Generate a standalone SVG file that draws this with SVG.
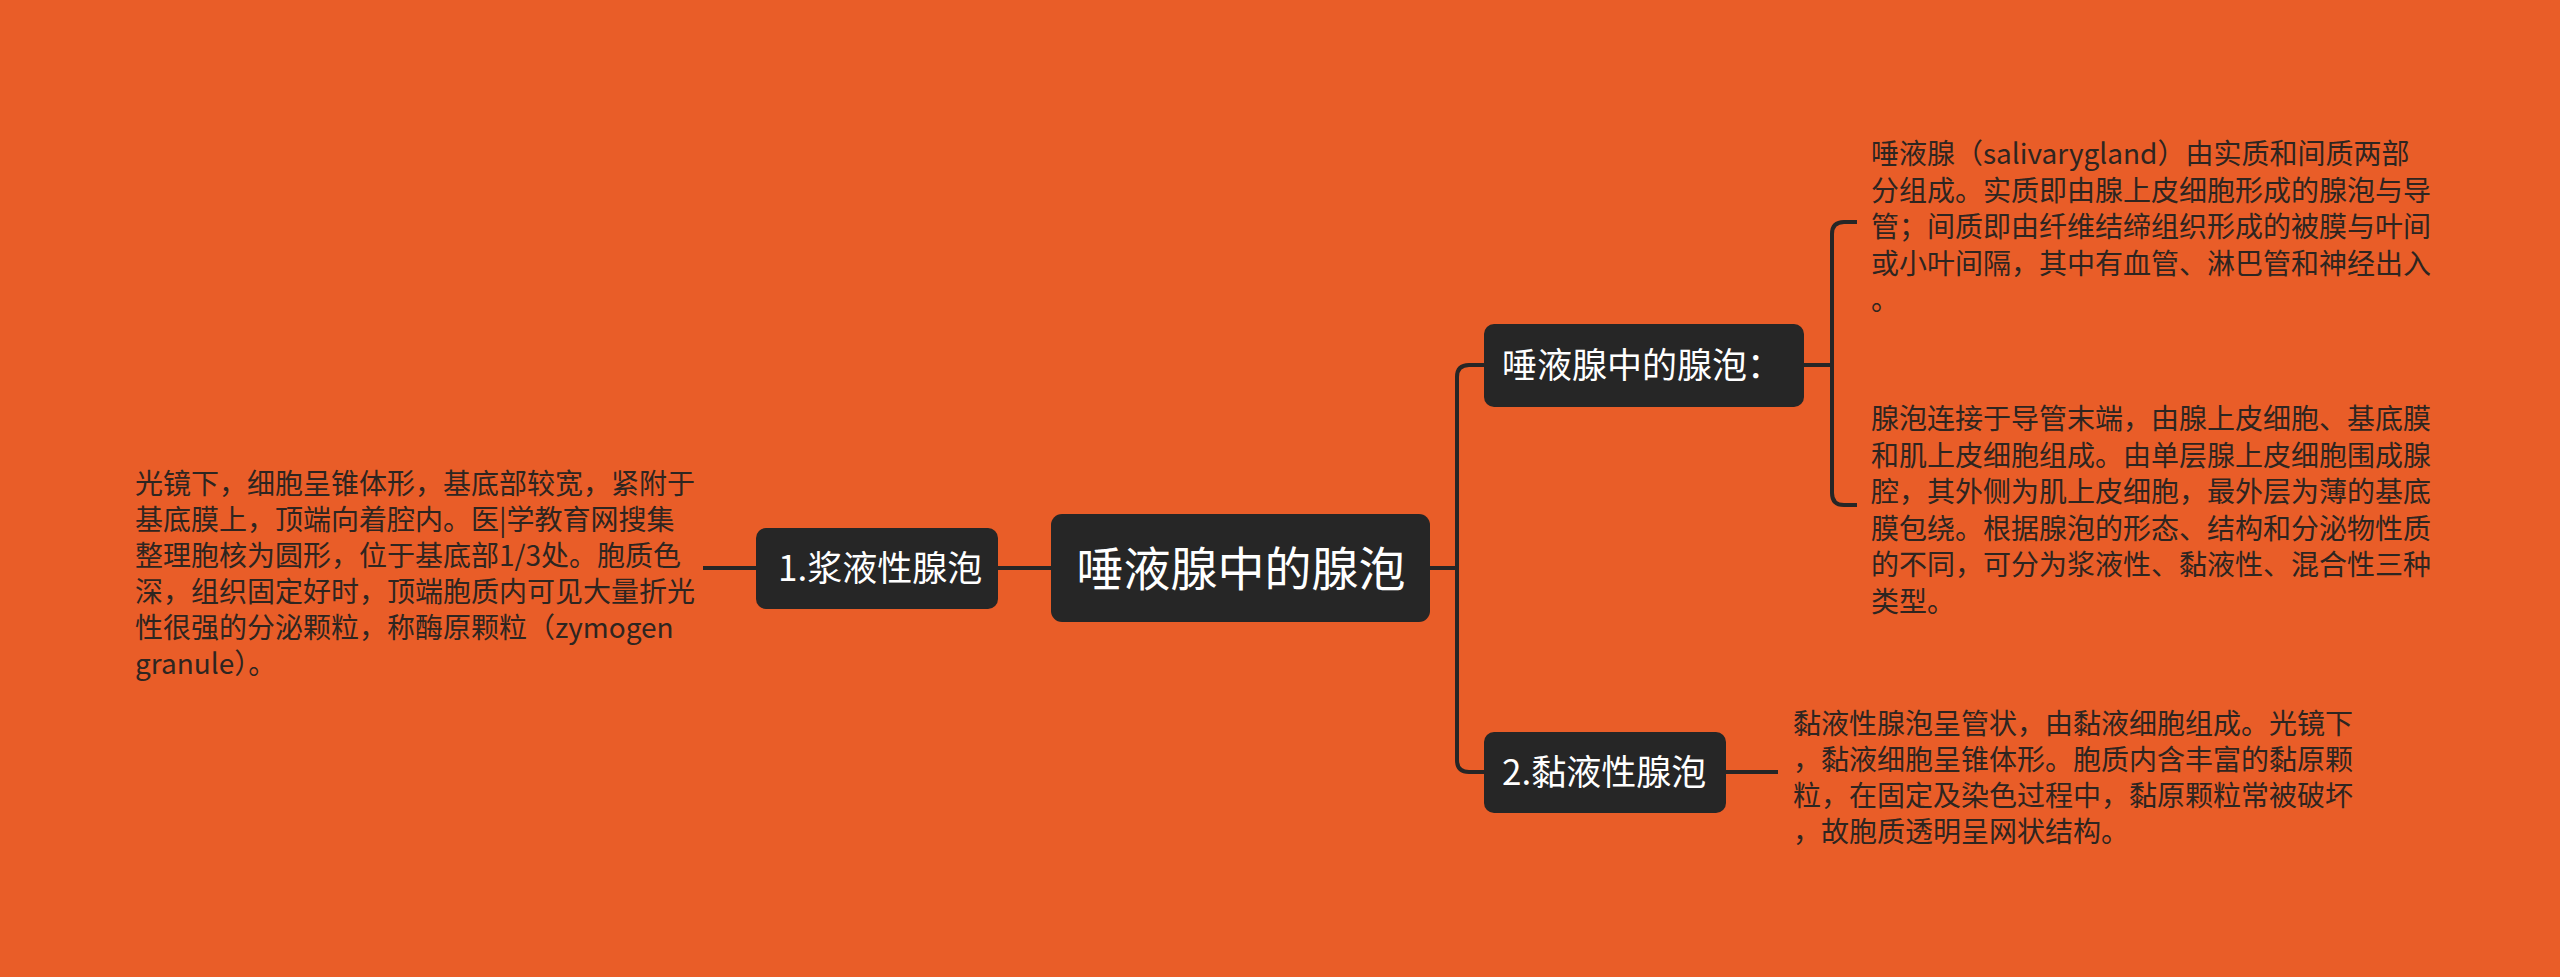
<svg xmlns="http://www.w3.org/2000/svg" width="2560" height="977" viewBox="0 0 2560 977">
<style>
.node rect{fill:#262626;}
.nt{font-family:"Noto Sans CJK SC","Noto Sans",sans-serif;fill:#ffffff;}
.para{font-family:"Noto Sans CJK SC","Noto Sans",sans-serif;font-size:28px;fill:#2e2520;}
.conn{fill:none;stroke:#262626;stroke-width:4;stroke-linecap:butt;}
</style>
<rect x="0" y="0" width="2560" height="977" fill="#E95D28"/>
<g id="connectors">
<path class="conn" d="M1430,568 H1457"/>
<path class="conn" d="M1484,365 H1469 Q1457,365 1457,377 V760 Q1457,772 1469,772 H1484"/>
<path class="conn" d="M1051,568 H998"/>
<path class="conn" d="M756,568 H703"/>
<path class="conn" d="M1804,365 H1832"/>
<path class="conn" d="M1857,222 H1844 Q1832,222 1832,234 V493 Q1832,505 1844,505 H1857"/>
<path class="conn" d="M1726,772 H1778"/>
</g>
<g id="root" class="node">
<rect x="1051" y="514" width="379" height="108" rx="11"/>
<text class="nt" x="1241" y="586" font-size="47" text-anchor="middle">唾液腺中的腺泡</text>
</g>
<g id="n-acinus" class="node">
<rect x="1484" y="324" width="320" height="83" rx="10"/>
<text class="nt" x="1502" y="378" font-size="35">唾液腺中的腺泡：</text>
</g>
<g id="n-serous" class="node">
<rect x="756" y="528" width="242" height="81" rx="10"/>
<text class="nt" x="778" y="581" font-size="35">1.浆液性腺泡</text>
</g>
<g id="n-mucous" class="node">
<rect x="1484" y="732" width="242" height="81" rx="10"/>
<text class="nt" x="1502" y="785" font-size="35">2.黏液性腺泡</text>
</g>
<g id="t-acinus-1">
<text class="para" x="1871"><tspan x="1871" y="164">唾液腺（salivarygland）由实质和间质两部</tspan><tspan x="1871" y="200.5">分组成。实质即由腺上皮细胞形成的腺泡与导</tspan><tspan x="1871" y="237">管；间质即由纤维结缔组织形成的被膜与叶间</tspan><tspan x="1871" y="273.5">或小叶间隔，其中有血管、淋巴管和神经出入</tspan><tspan x="1871" y="310">。</tspan></text>
</g>
<g id="t-acinus-2">
<text class="para" x="1871"><tspan x="1871" y="429">腺泡连接于导管末端，由腺上皮细胞、基底膜</tspan><tspan x="1871" y="465.5">和肌上皮细胞组成。由单层腺上皮细胞围成腺</tspan><tspan x="1871" y="502">腔，其外侧为肌上皮细胞，最外层为薄的基底</tspan><tspan x="1871" y="538.5">膜包绕。根据腺泡的形态、结构和分泌物性质</tspan><tspan x="1871" y="575">的不同，可分为浆液性、黏液性、混合性三种</tspan><tspan x="1871" y="611.5">类型。</tspan></text>
</g>
<g id="t-serous">
<text class="para" x="135"><tspan x="135" y="494">光镜下，细胞呈锥体形，基底部较宽，紧附于</tspan><tspan x="135" y="530">基底膜上，顶端向着腔内。医|学教育网搜集</tspan><tspan x="135" y="566">整理胞核为圆形，位于基底部1/3处。胞质色</tspan><tspan x="135" y="602">深，组织固定好时，顶端胞质内可见大量折光</tspan><tspan x="135" y="638">性很强的分泌颗粒，称酶原颗粒（zymogen</tspan><tspan x="135" y="674">granule）。</tspan></text>
</g>
<g id="t-mucous">
<text class="para" x="1793"><tspan x="1793" y="734">黏液性腺泡呈管状，由黏液细胞组成。光镜下</tspan><tspan x="1793" y="770">，黏液细胞呈锥体形。胞质内含丰富的黏原颗</tspan><tspan x="1793" y="806">粒，在固定及染色过程中，黏原颗粒常被破坏</tspan><tspan x="1793" y="842">，故胞质透明呈网状结构。</tspan></text>
</g>
</svg>
